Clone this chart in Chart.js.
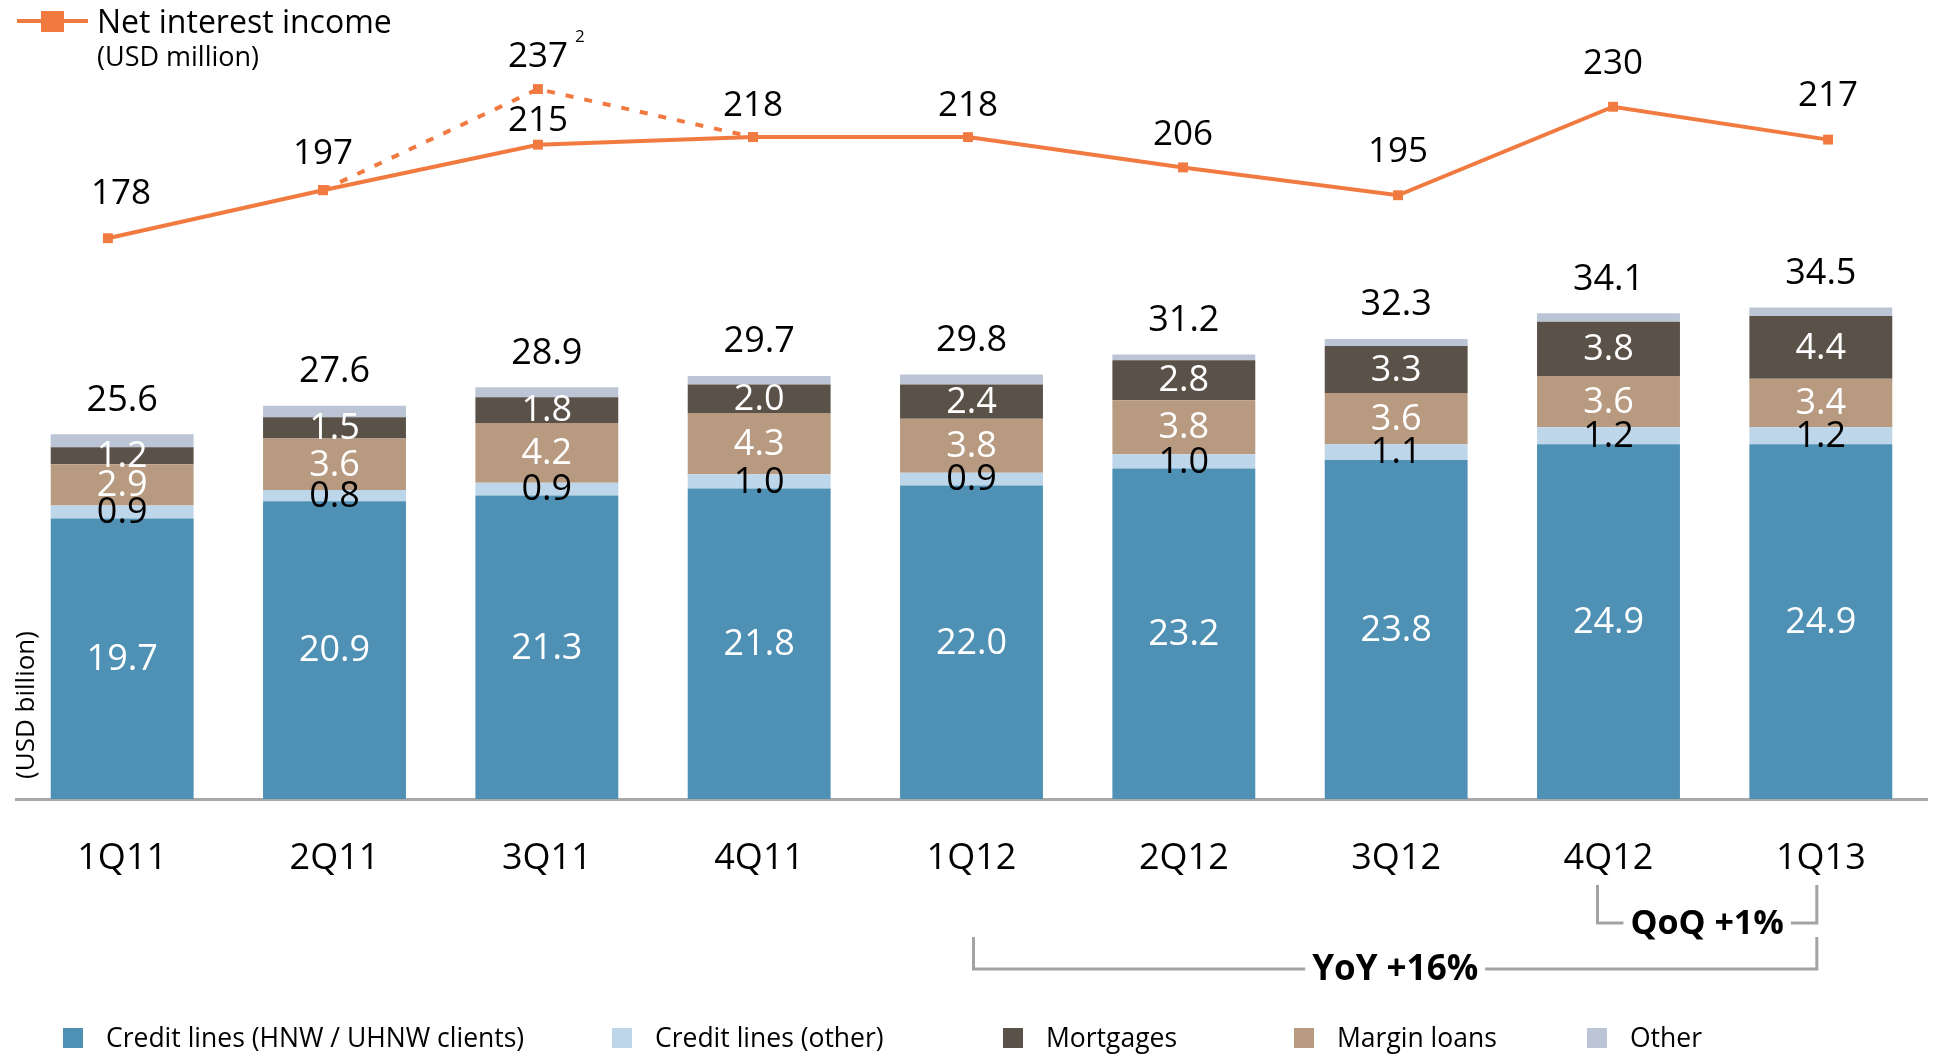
<!DOCTYPE html>
<html>
<head>
<meta charset="utf-8">
<script src="https://cdn.jsdelivr.net/npm/chart.js@4/dist/chart.umd.min.js"></script>
<style>
  html, body { margin: 0; padding: 0; background: #ffffff; }
  #wrap { width: 1934px; height: 1054px; position: relative; }
  canvas { display: block; }
</style>
</head>
<body>
<div id="wrap"><canvas id="c" width="1934" height="1054"></canvas></div>
<script>
// ---- data ----
const categories = ['1Q11', '2Q11', '3Q11', '4Q11', '1Q12', '2Q12', '3Q12', '4Q12', '1Q13'];
const creditLinesHNW = [19.7, 20.9, 21.3, 21.8, 22.0, 23.2, 23.8, 24.9, 24.9];
const creditLinesOther = [0.9, 0.8, 0.9, 1.0, 0.9, 1.0, 1.1, 1.2, 1.2];
const marginLoans = [2.9, 3.6, 4.2, 4.3, 3.8, 3.8, 3.6, 3.6, 3.4];
const mortgages = [1.2, 1.5, 1.8, 2.0, 2.4, 2.8, 3.3, 3.8, 4.4];
const otherLoans = [0.9, 0.8, 0.7, 0.6, 0.7, 0.4, 0.5, 0.6, 0.6];
const totalLoans = [25.6, 27.6, 28.9, 29.7, 29.8, 31.2, 32.3, 34.1, 34.5];
const netInterestIncome = [178, 197, 215, 218, 218, 206, 195, 230, 217];
const netInterestIncomeAlt = [null, 197, 237, 218, null, null, null, null, null];
const legendLabels = ['Credit lines (HNW / UHNW clients)', 'Credit lines (other)', 'Mortgages', 'Margin loans', 'Other'];
const growthLabels = ['YoY +16%', 'QoQ +1%'];

// ---- styles ----
const FONT = '"Open Sans", "Noto Sans", sans-serif';
const C_BLUE = '#4E91B5', C_LBLUE = '#BED6EA', C_TAN = '#B89A80', C_DARK = '#5A5148', C_OTHER = '#BBC5D5';
const C_ORANGE = '#F07A40', C_GRAY = '#A3A3A3';
const lineLabelLift = [44, 36, 24, 31, 31, 32, 43, 43, 44];
const lineLabelDx = [13, 0, 0, 0, 0, 0, 0, 0, 0];

const toXY = arr => arr.map((v, i) => ({ x: i, y: v }));

const overlay = {
  id: 'overlay',
  afterDatasetsDraw(chart) {
    const ctx = chart.ctx;
    ctx.save();
    ctx.textAlign = 'center';
    ctx.textBaseline = 'middle';
    // segment value labels
    ctx.font = '36px ' + FONT;
    [0, 1, 2, 3].forEach(di => {
      const meta = chart.getDatasetMeta(di);
      const vals = chart.data.datasets[di].data;
      meta.data.forEach((el, i) => {
        ctx.fillStyle = di === 1 ? '#000000' : '#ffffff';
        ctx.fillText(vals[i].toFixed(1), el.x, (el.y + el.base) / 2 + 1);
      });
    });
    // totals
    ctx.fillStyle = '#000000';
    chart.getDatasetMeta(4).data.forEach((el, i) => {
      ctx.fillText(totalLoans[i].toFixed(1), el.x, el.y - 34);
    });
    // line labels
    ctx.font = '35px ' + FONT;
    chart.getDatasetMeta(5).data.forEach((el, i) => {
      ctx.fillText(String(netInterestIncome[i]), el.x + lineLabelDx[i], el.y - lineLabelLift[i]);
    });
    const altMeta = chart.getDatasetMeta(6);
    const pk = altMeta.data[2];
    ctx.fillText(String(netInterestIncomeAlt[2]), pk.x, pk.y - 32);
    ctx.font = '17px ' + FONT;
    ctx.textAlign = 'left';
    ctx.textBaseline = 'alphabetic';
    ctx.fillText('2', pk.x + 37, pk.y - 47);
    ctx.restore();
  },
  afterDraw(chart) {
    const ctx = chart.ctx;
    const xs = chart.scales.x;
    ctx.save();
    // rotated axis title
    ctx.fillStyle = '#000000';
    ctx.font = '26px ' + FONT;
    ctx.translate(27, 705);
    ctx.rotate(-Math.PI / 2);
    ctx.textAlign = 'center';
    ctx.textBaseline = 'middle';
    ctx.fillText('(USD billion)', 0, 0);
    ctx.restore();

    ctx.save();
    // top-left line legend
    ctx.strokeStyle = C_ORANGE;
    ctx.lineWidth = 4;
    ctx.beginPath(); ctx.moveTo(17, 21); ctx.lineTo(88, 21); ctx.stroke();
    ctx.fillStyle = C_ORANGE;
    ctx.fillRect(41, 11, 23, 21);
    ctx.fillStyle = '#000000';
    ctx.textAlign = 'left';
    ctx.textBaseline = 'alphabetic';
    ctx.font = '32px ' + FONT;
    ctx.fillText('Net interest income', 97, 33);
    ctx.font = '27px ' + FONT;
    ctx.fillText('(USD million)', 97, 66);

    // bottom legend
    const colors = [C_BLUE, C_LBLUE, C_DARK, C_TAN, C_OTHER];
    const lx = [63, 612, 1003, 1294, 1587];
    ctx.font = '26.5px ' + FONT;
    legendLabels.forEach((t, i) => {
      ctx.fillStyle = colors[i];
      ctx.fillRect(lx[i], 1028, 20, 20);
      ctx.fillStyle = '#000000';
      ctx.fillText(t, lx[i] + 43, 1047);
    });

    // growth brackets
    ctx.strokeStyle = C_GRAY;
    ctx.lineWidth = 3;
    ctx.textAlign = 'center';
    ctx.textBaseline = 'middle';
    const bracket = (x1, x2, yTop, yLine, text, size) => {
      ctx.font = 'bold ' + size + 'px ' + FONT;
      const mid = (x1 + x2) / 2;
      const w = ctx.measureText(text).width / 2 + 7;
      ctx.beginPath();
      ctx.moveTo(x1, yTop); ctx.lineTo(x1, yLine); ctx.lineTo(mid - w, yLine);
      ctx.moveTo(mid + w, yLine); ctx.lineTo(x2, yLine); ctx.lineTo(x2, yTop);
      ctx.stroke();
      ctx.fillStyle = '#000000';
      ctx.fillText(text, mid, yLine + 1);
    };
    bracket(xs.getPixelForValue(4) + 2, xs.getPixelForValue(8) - 4, 937, 969, growthLabels[0], 35);
    bracket(xs.getPixelForValue(7) - 11, xs.getPixelForValue(8) - 4, 885, 923, growthLabels[1], 34);
    ctx.restore();
  }
};

const barDs = (label, data, color) => ({
  type: 'bar', label, data, backgroundColor: color, borderWidth: 0,
  xAxisID: 'x', yAxisID: 'y', order: 3, grouped: false,
  barPercentage: 0.673, categoryPercentage: 1.0
});

new Chart(document.getElementById('c'), {
  type: 'bar',
  data: {
    labels: categories,
    datasets: [
      barDs('Credit lines (HNW / UHNW clients)', creditLinesHNW, C_BLUE),
      barDs('Credit lines (other)', creditLinesOther, C_LBLUE),
      barDs('Margin loans', marginLoans, C_TAN),
      barDs('Mortgages', mortgages, C_DARK),
      barDs('Other', otherLoans, C_OTHER),
      {
        type: 'line', label: 'Net interest income', data: toXY(netInterestIncome),
        xAxisID: 'xl', yAxisID: 'y2', borderColor: C_ORANGE, borderWidth: 4,
        pointStyle: 'rect', pointRadius: 7, pointBackgroundColor: C_ORANGE, pointBorderWidth: 0,
        tension: 0, order: 0
      },
      {
        type: 'line', label: 'Net interest income (alt)', data: toXY(netInterestIncomeAlt),
        xAxisID: 'xl', yAxisID: 'y2', borderColor: C_ORANGE, borderWidth: 4, borderDash: [8, 11],
        pointStyle: 'rect', pointRadius: 7, pointBackgroundColor: C_ORANGE, pointBorderWidth: 0,
        tension: 0, spanGaps: false, order: 1
      }
    ]
  },
  options: {
    responsive: false,
    animation: false,
    devicePixelRatio: 1,
    layout: { padding: { left: 16, right: 5, top: 0, bottom: 0 } },
    plugins: { legend: { display: false }, tooltip: { enabled: false } },
    scales: {
      x: {
        type: 'category', stacked: true, offset: true,
        grid: { display: false, drawTicks: false },
        border: { display: true, color: '#A8A8A8', width: 3 },
        ticks: { color: '#000000', font: { family: FONT, size: 36 }, padding: 38, maxRotation: 0, autoSkip: false },
        afterFit: s => { s.height = 255; }
      },
      xl: { type: 'linear', display: false, offset: false, min: -0.4274, max: 8.46 },
      y: { display: false, stacked: true, min: 0, max: 55.6 },
      y2: { display: false, min: -43.84, max: 269.46 }
    }
  },
  plugins: [overlay]
});
</script>
</body>
</html>
